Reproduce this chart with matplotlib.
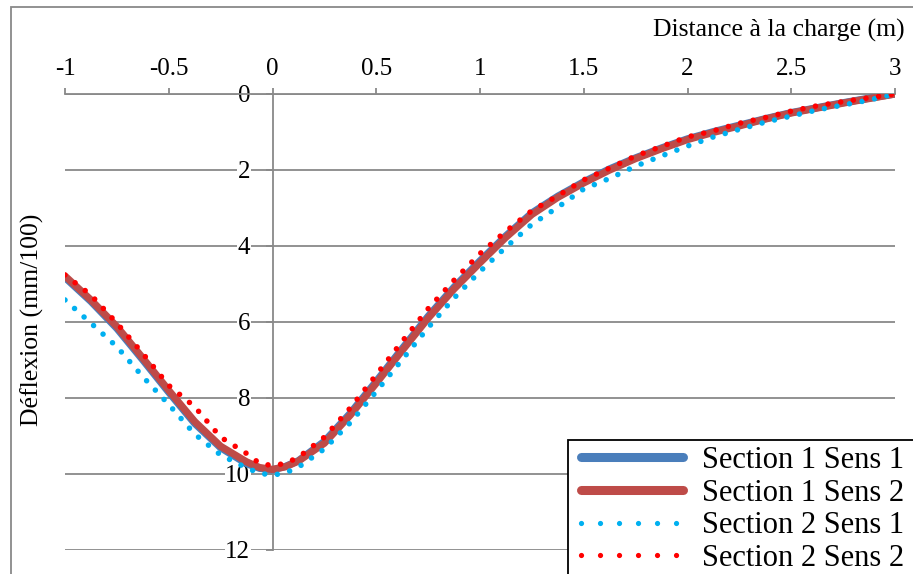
# ---------------------------------------------------------------------
#  Importation des bibliothèques
# ---------------------------------------------------------------------

import matplotlib
matplotlib.use('Agg')
import matplotlib.pyplot as plt
from matplotlib.lines import Line2D
from matplotlib.patches import Rectangle

plt.rcParams['font.family'] = ['Liberation Serif', 'DejaVu Serif']


# ---------------------------------------------------------------------
#  Données (déflexion en mm/100)
# ---------------------------------------------------------------------

distance = [-1, -0.875, -0.75, -0.625, -0.5, -0.375, -0.25, -0.125, -0.0625,
            0, 0.0625, 0.125, 0.25, 0.375, 0.5, 0.625, 0.75, 0.875, 1,
            1.125, 1.25, 1.375, 1.5, 1.625, 1.75, 1.875, 2, 2.125, 2.25,
            2.375, 2.5, 2.625, 2.75, 2.875, 3]

section1_sens1 = [4.83, 5.46, 6.17, 7.00, 7.85, 8.67, 9.31, 9.73, 9.85,
                  9.89, 9.80, 9.65, 9.14, 8.40, 7.56, 6.70, 5.85, 5.08, 4.39,
                  3.73, 3.13, 2.69, 2.31, 1.97, 1.68, 1.42, 1.18, 0.99, 0.82,
                  0.65, 0.49, 0.36, 0.23, 0.11, 0.0]

section1_sens2 = [4.79, 5.42, 6.12, 6.95, 7.80, 8.62, 9.27, 9.68, 9.83,
                  9.88, 9.81, 9.66, 9.19, 8.45, 7.61, 6.75, 5.90, 5.13, 4.44,
                  3.77, 3.17, 2.72, 2.34, 2.00, 1.70, 1.44, 1.20, 1.01, 0.84,
                  0.66, 0.50, 0.37, 0.24, 0.12, 0.0]

section2_sens1 = [5.42, 6.03, 6.65, 7.44, 8.17, 8.95, 9.50, 9.84, 9.98,
                  10.03, 9.97, 9.82, 9.34, 8.65, 7.83, 6.99, 6.15, 5.37, 4.67,
                  4.03, 3.43, 2.98, 2.50, 2.22, 1.90, 1.63, 1.37, 1.13, 0.93,
                  0.74, 0.58, 0.42, 0.29, 0.16, 0.0]

section2_sens2 = [4.76, 5.29, 6.03, 6.83, 7.67, 8.23, 9.03, 9.46, 9.72,
                  9.78, 9.72, 9.56, 9.03, 8.26, 7.39, 6.51, 5.65, 4.90, 4.20,
                  3.61, 3.07, 2.68, 2.26, 1.95, 1.63, 1.38, 1.13, 0.97, 0.77,
                  0.62, 0.45, 0.31, 0.20, 0.10, 0.0]

noms_series = ['Section 1 Sens 1', 'Section 1 Sens 2',
               'Section 2 Sens 1', 'Section 2 Sens 2']

x_ticks = [-1, -0.5, 0, 0.5, 1, 1.5, 2, 2.5, 3]
x_tick_labels = ['-1', '-0.5', '0', '0.5', '1', '1.5', '2', '2.5', '3']
y_ticks = [0, 2, 4, 6, 8, 10, 12]


# ---------------------------------------------------------------------
#  Configuration du graphique
# ---------------------------------------------------------------------

gris = '#898989'
couleurs = ['#4A7EBB', '#BE4B48', '#00B0F0', '#FF0000']
pointille = (0, (0.001, 2.3))

fig = plt.figure(figsize=(9.13, 5.74), dpi=100)
ax = fig.add_axes([65 / 913, 1 - 550 / 574, 830 / 913, 456 / 574])

# Cadre extérieur (coupé à droite et en bas)
fig.patches.append(Rectangle((11 / 913, -0.1), 1.2, 1.1 - 7 / 574,
                             transform=fig.transFigure, fill=False,
                             edgecolor=gris, linewidth=1.3, zorder=0.5))

# Courbes
ax.plot(distance, section1_sens1, color=couleurs[0], linewidth=5.2,
        solid_capstyle='butt', zorder=3)
ax.plot(distance, section1_sens2, color=couleurs[1], linewidth=5.2,
        solid_capstyle='butt', zorder=3)
ax.plot(distance, section2_sens1, color=couleurs[2], linewidth=4.0,
        linestyle=pointille, dash_capstyle='round', zorder=3)
ax.plot(distance, section2_sens2, color=couleurs[3], linewidth=4.0,
        linestyle=pointille, dash_capstyle='round', zorder=3)

# Axes : x en haut, y inversé et croisant en x = 0
ax.set_xlim(-1, 3)
ax.set_ylim(12, 0)
ax.xaxis.tick_top()
ax.set_xticks(x_ticks)
ax.set_xticklabels(x_tick_labels)
ax.set_yticks(y_ticks)

ax.spines['left'].set_position(('data', 0))
ax.spines['left'].set_color(gris)
ax.spines['left'].set_linewidth(1.3)
ax.spines['top'].set_color(gris)
ax.spines['top'].set_linewidth(1.3)
ax.spines['right'].set_visible(False)
ax.spines['bottom'].set_visible(False)

ax.tick_params(axis='x', direction='out', length=4.5, width=1.3, color=gris,
               pad=5.5, labelsize=18)
ax.tick_params(axis='y', direction='out', length=5, width=1.3, color=gris,
               pad=11, labelsize=18)
for lbl in ax.get_yticklabels():
    lbl.set_bbox(dict(facecolor='white', edgecolor='none', pad=0.5))

ax.yaxis.grid(True, color=gris, linewidth=1.3)
ax.set_axisbelow(True)

# Titres des axes
fig.text(905 / 913, 1 - 30 / 574, 'Distance à la charge (m)', fontsize=18.5,
         ha='right', va='center')
fig.text(32 / 913, 1 - 320 / 574, 'Déflexion (mm/100)', fontsize=18.5,
         rotation=90, ha='center', va='center')

# Légende : cadre qui déborde de l'image
fig.patches.append(Rectangle((568 / 913, -0.1), 0.5, 0.1 + 1 - 440 / 574,
                             transform=fig.transFigure, facecolor='white',
                             edgecolor='black', linewidth=1.3, zorder=4))
poignees = [
    Line2D([], [], color=couleurs[0], linewidth=6.5, solid_capstyle='round'),
    Line2D([], [], color=couleurs[1], linewidth=6.5, solid_capstyle='round'),
    Line2D([], [], color=couleurs[2], linewidth=3.8,
           linestyle=(0, (0.001, 3.6)), dash_capstyle='round'),
    Line2D([], [], color=couleurs[3], linewidth=3.8,
           linestyle=(0, (0.001, 3.6)), dash_capstyle='round'),
]
leg = fig.legend(poignees, noms_series, loc='upper left',
                 bbox_to_anchor=(578 / 913, 1 - 443 / 574), fontsize=22,
                 handlelength=3.35, handletextpad=0.6, labelspacing=0.12,
                 borderpad=0.1, borderaxespad=0, frameon=False)
leg.set_zorder(5)

# Sauvegarde
plt.savefig('out.png', dpi=100)
plt.close()
